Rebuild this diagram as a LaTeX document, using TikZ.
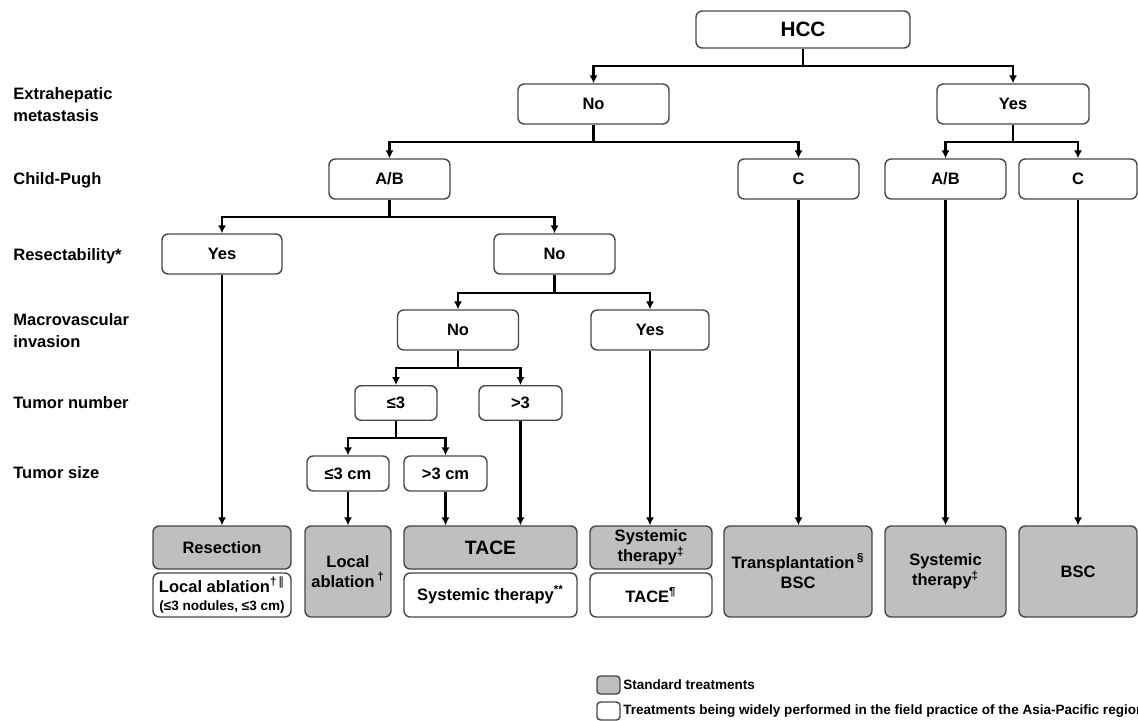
\documentclass[tikz,border=0pt]{standalone}
\usepackage{fontspec}
\setmainfont{Liberation Sans}
\newfontfamily\dejavu{DejaVu Sans}
\usepackage{tikz}
\usetikzlibrary{arrows.meta}

\begin{document}
\begin{tikzpicture}[x=0.02cm, y=-0.02cm,
  >={Latex[length=4.5pt,width=4.6pt]},
  box/.style={draw=black!72, line width=0.8pt, rounded corners=3.5pt, align=center,
    inner sep=1pt, font=\fontsize{9.4}{11.5}\selectfont\bfseries},
  choice/.style={box, fill=white, minimum width=2.42cm, minimum height=0.8cm},
  tumor/.style={box, fill=white, minimum width=1.64cm, minimum height=0.69cm},
  std/.style={box, fill=gray!50},
  alt/.style={box, fill=white},
  rowlabel/.style={anchor=west, align=left, inner sep=0pt,
    font=\fontsize{9.4}{12.5}\selectfont\bfseries},
  legend/.style={anchor=west, inner sep=0pt, font=\fontsize{7.7}{9}\selectfont\bfseries},
  link/.style={line width=1.3pt}]

\useasboundingbox (0,0) rectangle (1138,720);

% row labels
\node[rowlabel] (lbmeta) at (13,105) {Extrahepatic\\metastasis};
\node[rowlabel] (lbchild) at (13,180) {Child-Pugh};
\node[rowlabel] (lbresect) at (13,256) {Resectability*};
\node[rowlabel] (lbmacro) at (13,331) {Macrovascular\\invasion};
\node[rowlabel] (lbnumber) at (13,403) {Tumor number};
\node[rowlabel] (lbsize) at (13,473) {Tumor size};

% decision boxes
\node[box, minimum width=4.28cm, minimum height=0.74cm, font=\fontsize{11.8}{14}\selectfont\bfseries] (hcc) at (803,29.5) {HCC};

\node[choice, minimum width=3.02cm] (ehno) at (593.5,104) {No};
\node[choice, minimum width=3.04cm] (ehyes) at (1013,104) {Yes};

\node[choice] (cpab) at (389.5,179) {A/B};
\node[choice] (cpc) at (798.5,179) {C};
\node[choice] (cpab2) at (945.5,179) {A/B};
\node[choice, minimum width=2.36cm] (cpc2) at (1078,179) {C};

\node[choice, minimum width=2.4cm] (resyes) at (222,254) {Yes};
\node[choice] (resno) at (554.5,254) {No};

\node[choice] (mvno) at (458,330) {No};
\node[choice, minimum width=2.36cm] (mvyes) at (650,330) {Yes};

\node[tumor] (tnle) at (396,403) {≤3};
\node[tumor, minimum width=1.66cm] (tngt) at (520.5,403) {>3};

\node[tumor, minimum height=0.7cm] (tsle) at (348,473.5) {≤3 cm};
\node[tumor, minimum width=1.66cm, minimum height=0.7cm] (tsgt) at (445.5,473.5) {>3 cm};

% treatments
\node[std, minimum width=2.76cm, minimum height=0.86cm] (resect) at (222,547.5) {Resection};
\node[alt, minimum width=2.76cm, minimum height=0.88cm] (ablalt) at (222,595) {Local ablation\textsuperscript{†\,{\dejavu\mdseries ‖}}\\[-1.5pt]{\fontsize{7.7}{9}\selectfont (≤3 nodules, ≤3 cm)}};

\node[std, minimum width=1.72cm, minimum height=1.82cm] (abl) at (348,571.5) {Local\\ablation\,\textsuperscript{†}};

\node[std, minimum width=3.46cm, minimum height=0.86cm, font=\fontsize{11}{13}\selectfont\bfseries] (tace) at (490.5,547.5) {TACE};
\node[alt, minimum width=3.46cm, minimum height=0.88cm] (sysalt) at (490.5,595) {Systemic therapy\textsuperscript{**}};

\node[std, minimum width=2.44cm, minimum height=0.86cm] (sys) at (651,547.5) {Systemic\\therapy\textsuperscript{‡}};
\node[alt, minimum width=2.44cm, minimum height=0.88cm] (tacealt) at (651,595) {TACE\textsuperscript{¶}};

\node[std, minimum width=2.96cm, minimum height=1.82cm] (transp) at (798,571.5) {Transplantation\,\textsuperscript{§}\\BSC};
\node[std, minimum width=2.42cm, minimum height=1.82cm] (sys2) at (945.5,571.5) {Systemic\\therapy\textsuperscript{‡}};
\node[std, minimum width=2.36cm, minimum height=1.82cm] (bsc) at (1078,571.5) {BSC};

% legend
\node[std, minimum width=0.46cm, minimum height=0.36cm, rounded corners=2pt] (lgstd) at (608.5,685) {};
\node[legend] (lgstdtxt) at (623,685) {Standard treatments};
\node[alt, minimum width=0.46cm, minimum height=0.36cm, rounded corners=2pt] (lgalt) at (608.5,711) {};
\node[legend] (lgalttxt) at (623,711) {Treatments being widely performed in the field practice of the Asia-Pacific region};

% branch points
\coordinate (jhcc) at (803,66);
\coordinate (jeh) at (593.5,142);
\coordinate (jey) at (1013,142);
\coordinate (jcp) at (389.5,217);
\coordinate (jres) at (554.5,293);
\coordinate (jmv) at (458,368);
\coordinate (jtn) at (396,438);

\draw[link,->] (hcc) -- (jhcc) -| (ehno);
\draw[link,->] (jhcc) -| (ehyes);
\draw[link,->] (ehno) -- (jeh) -| (cpab);
\draw[link,->] (jeh) -| (cpc);
\draw[link,->] (ehyes) -- (jey) -| (cpab2);
\draw[link,->] (jey) -| (cpc2);
\draw[link,->] (cpab) -- (jcp) -| (resyes);
\draw[link,->] (jcp) -| (resno);
\draw[link,->] (resno) -- (jres) -| (mvno);
\draw[link,->] (jres) -| (mvyes);
\draw[link,->] (mvno) -- (jmv) -| (tnle);
\draw[link,->] (jmv) -| (tngt);
\draw[link,->] (tnle) -- (jtn) -| (tsle);
\draw[link,->] (jtn) -| (tsgt);

\draw[link,->] (resyes) -- (resect);
\draw[link,->] (tsle) -- (abl);
\draw[link,->] (tsgt) -- (tsgt |- tace.north);
\draw[link,->] (tngt) -- (tngt |- tace.north);
\draw[link,->] (mvyes) -- (mvyes |- sys.north);
\draw[link,->] (cpc) -- (cpc |- transp.north);
\draw[link,->] (cpab2) -- (sys2);
\draw[link,->] (cpc2) -- (bsc);

\end{tikzpicture}
\end{document}
